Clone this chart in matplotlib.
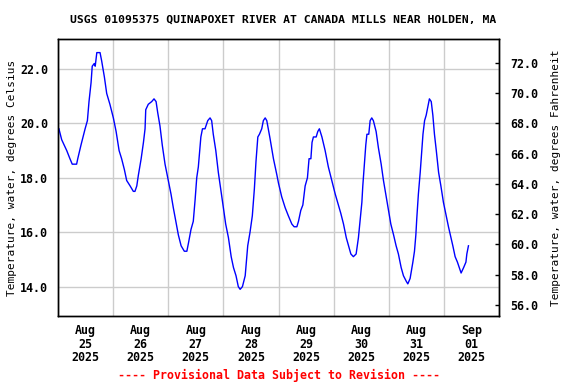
import matplotlib
matplotlib.use('Agg')
import matplotlib.pyplot as plt
import matplotlib.dates as mdates
import numpy as np
import pandas as pd

# hours since 2025-08-25 00:00, water temperature (deg C)
hours = [0.4, 1.6, 3.8, 5.2, 6.2, 8.1, 8.6, 10.0, 11.8, 12.8, 13.5, 14.4, 14.9, 15.8, 16.2,
         16.9, 18.3, 19.0, 20.2, 21.2, 22.6, 24.1, 25.3, 26.6, 27.7, 28.9, 29.9, 31.4, 32.8,
         33.5, 34.3, 35.0, 36.2, 37.2, 37.9, 38.2, 39.3, 40.8, 41.8, 42.7, 43.4, 44.4, 45.4,
         46.6, 48.0, 49.2, 50.2, 51.3, 52.4, 53.6, 55.0, 56.1, 56.8, 57.9, 58.9, 59.7, 60.4,
         61.1, 62.2, 62.9, 64.0, 65.2, 66.2, 66.9, 67.6, 68.7, 69.8, 71.0, 72.0, 73.0, 74.2,
         75.4, 76.4, 77.5, 78.5, 79.3, 80.3, 81.5, 82.6, 83.6, 84.6, 85.5, 86.2, 87.0, 87.7,
         88.7, 89.4, 90.2, 90.9, 92.3, 93.8, 95.3, 96.0, 97.4, 98.9, 100.3, 101.8, 102.8,
         104.0, 104.7, 105.7, 106.6, 107.6, 108.6, 109.3, 110.1, 110.6, 111.2, 112.4, 113.1,
         113.8, 114.9, 116.3, 117.7, 119.2, 120.7, 122.1, 123.1, 124.3, 125.5, 126.5, 127.5,
         128.6, 129.8, 130.8, 131.6, 132.3, 132.7, 133.3, 134.0, 134.5, 135.3, 135.9, 136.6,
         137.3, 138.5, 139.5, 140.7, 141.7, 142.9, 143.9, 144.9, 146.1, 147.2, 148.2, 149.4,
         150.4, 151.6, 152.3, 153.3, 154.5, 155.2, 155.8, 156.2, 156.9, 157.7, 158.4, 158.9,
         159.6, 160.3, 161.0, 161.7, 162.5, 163.2, 163.9, 164.7, 165.7, 166.7, 167.8, 169.0,
         170.0, 171.1, 171.9, 172.9, 173.9, 175.1, 175.5, 176.6, 177.6, 178.0, 178.7]
temp_c = [19.8, 19.4, 19.0, 18.7, 18.5, 18.5, 18.7, 19.2, 19.8, 20.1, 20.8, 21.5, 22.1, 22.2, 22.1,
          22.6, 22.6, 22.3, 21.7, 21.1, 20.7, 20.2, 19.7, 19.0, 18.7, 18.3, 17.9, 17.7, 17.5,
          17.5, 17.7, 18.1, 18.7, 19.3, 19.8, 20.5, 20.7, 20.8, 20.9, 20.8, 20.4, 19.9, 19.2,
          18.5, 17.9, 17.4, 16.9, 16.4, 15.9, 15.5, 15.3, 15.3, 15.6, 16.1, 16.4, 17.2, 18.0,
          18.4, 19.5, 19.8, 19.8, 20.1, 20.2, 20.1, 19.6, 19.0, 18.2, 17.5, 16.9, 16.3, 15.8,
          15.1, 14.7, 14.4, 14.0, 13.9, 14.0, 14.4, 15.5, 16.0, 16.6, 17.6, 18.6, 19.5, 19.6,
          19.8, 20.1, 20.2, 20.1, 19.45, 18.7, 18.1, 17.8, 17.3, 16.9, 16.6, 16.3, 16.2,
          16.2, 16.4, 16.8, 17.0, 17.7, 18.0, 18.7, 18.7, 19.3, 19.5, 19.5, 19.7,
          19.8, 19.5, 19.0, 18.4, 17.9, 17.4, 17.0, 16.7, 16.3, 15.8, 15.5, 15.2,
          15.1, 15.2, 15.8, 16.5, 17.1, 17.7, 18.4, 19.2, 19.6, 19.6, 20.1, 20.2,
          20.1, 19.7, 19.1, 18.5, 17.9, 17.3, 16.8, 16.3, 15.9, 15.5, 15.2, 14.7,
          14.4, 14.2, 14.1, 14.3, 14.9, 15.3, 15.9, 16.5, 17.4, 18.2, 19.0, 19.6,
          20.1, 20.3, 20.6, 20.9, 20.8, 20.3, 19.6, 19.0, 18.2, 17.7, 17.1, 16.6,
          16.2, 15.8, 15.5, 15.1, 14.9, 14.6, 14.5, 14.7, 14.9, 15.2, 15.5]

title = 'USGS 01095375 QUINAPOXET RIVER AT CANADA MILLS NEAR HOLDEN, MA'
ylabel_c = 'Temperature, water, degrees Celsius'
ylabel_f = 'Temperature, water, degrees Fahrenheit'
footer = '---- Provisional Data Subject to Revision ----'
c_ticks = [14, 16, 18, 20, 22]
f_ticks = [56, 58, 60, 62, 64, 66, 68, 70, 72]

plt.rcParams['font.family'] = 'DejaVu Sans Mono'
plt.rcParams['font.weight'] = 'bold'

start = pd.Timestamp('2025-08-25')
times = start + pd.to_timedelta(hours, unit='h')

fig = plt.figure(figsize=(5.76, 3.84), dpi=100)
ax = fig.add_axes([58 / 576, 1 - 316 / 384, 441 / 576, 277 / 384])
ax.plot(times, temp_c, color='#0000ff', lw=1.0)

ax.set_xlim(start, start + pd.Timedelta(days=8))
ylo, yhi = 12.92, 23.10
ax.set_ylim(ylo, yhi)

# day boundaries get grid lines, labels sit at noon
ax.xaxis.set_minor_locator(mdates.DayLocator())
ax.xaxis.set_major_locator(mdates.HourLocator(byhour=[12]))
ax.xaxis.set_major_formatter(mdates.DateFormatter('%b\n%d\n%Y'))
ax.tick_params(axis='x', which='both', length=0, labelsize=8.4, pad=6)
ax.grid(True, axis='x', which='minor', color='#cccccc', lw=1)
ax.set_yticks(c_ticks)
ax.set_yticklabels([f'{v:.1f}' for v in c_ticks])
ax.tick_params(axis='y', length=0, labelsize=8.4, pad=7)
ax.grid(True, axis='y', which='major', color='#cccccc', lw=1)
ax.set_axisbelow(True)
for lab in ax.get_xticklabels():
    lab.set_linespacing(1.05)
ax.set_ylabel(ylabel_c, fontsize=8.0, labelpad=2)

axf = ax.twinx()
axf.set_ylim(ylo * 9 / 5 + 32, yhi * 9 / 5 + 32)
axf.set_yticks(f_ticks)
axf.set_yticklabels([f'{v:.1f}' for v in f_ticks])
axf.tick_params(axis='y', direction='in', length=3, width=1, labelsize=8.4, pad=8)
axf.set_ylabel(ylabel_f, fontsize=8.0, labelpad=9)

for a in (ax, axf):
    for s in a.spines.values():
        s.set_linewidth(1)
        s.set_color('black')

fig.text(0.5 * (58 + 499) / 576 + 0.008, 1 - 20 / 384, title, ha='center', va='center', fontsize=8.2)
fig.text(0.5 * (58 + 499) / 576, 1 - 375 / 384, footer, ha='center', va='center',
         fontsize=8.4, color='#ff0000')

fig.savefig('out.png', dpi=100)
